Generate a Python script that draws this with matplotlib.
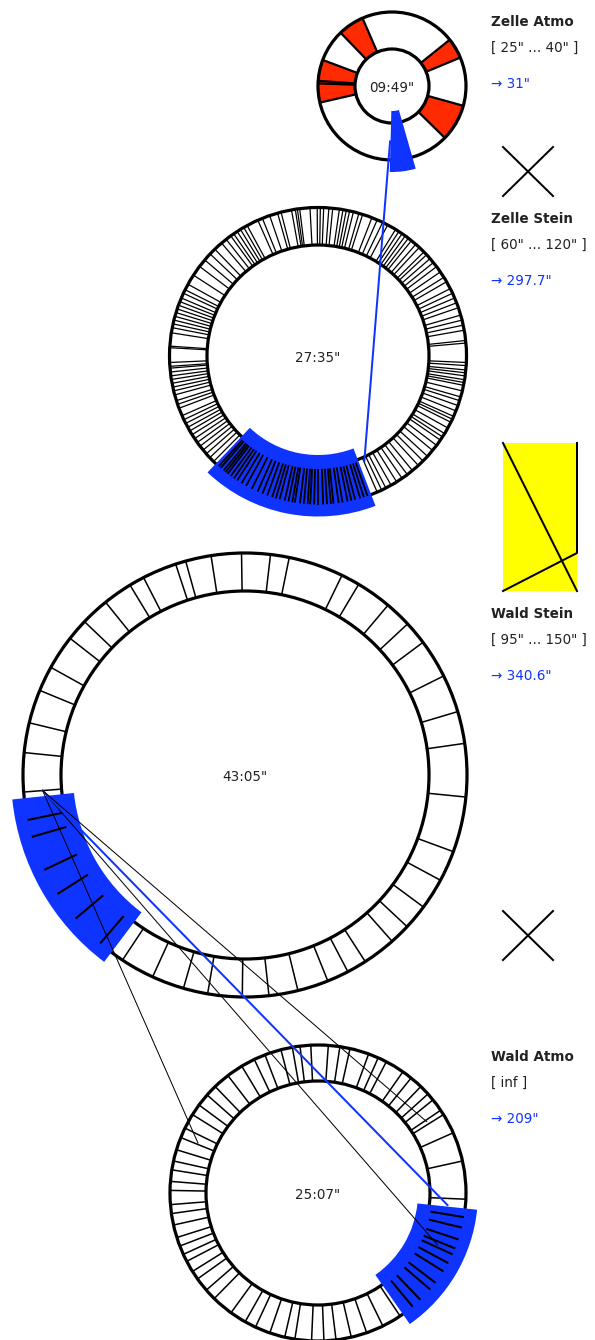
import numpy as np
import matplotlib
matplotlib.use("Agg")
import matplotlib.pyplot as plt
from matplotlib.patches import Wedge, Circle, Polygon

# ---------------- data ----------------
ring_names = ["Zelle Atmo", "Zelle Stein", "Wald Stein", "Wald Atmo"]
ring_times = ['09:49"', '27:35"', '43:05"', '25:07"']
ring_ranges = ['[ 25" ... 40" ]', '[ 60" ... 120" ]', '[ 95" ... 150" ]', '[ inf ]']
ring_results = ['\u2192 31"', '\u2192 297.7"', '\u2192 340.6"', '\u2192 209"']

# divider angles (degrees, clockwise from top)
zelle_atmo_dividers = [51.3, 67.4, 105.5, 134.5, 257, 272, 274, 290.6, 316, 336.5]
zelle_atmo_red = [(51.3, 67.4), (105.5, 134.5), (257, 272), (272, 274),
                  (274, 290.6), (316, 336.5)]

zelle_stein_dividers = [
    273.2, 273.8, 279, 281, 282.5, 284, 285.5, 287, 288.5, 290, 291.5, 293,
    295, 296.5, 298.9, 303, 307.1, 310.3, 313.4, 316, 319.5, 321.8, 324,
    325.4, 327, 328.5, 330, 331.5, 336.1, 338, 341, 344.2, 345.6, 349.7,
    351.2, 352, 352.9, 356.9, 359.7, 0.9, 2.2, 4.2, 5.7, 8.3, 9.7, 11, 12.3,
    13.8, 16, 17.5, 21.3, 23.5, 25.8, 28, 31.5, 33, 34.5, 36, 37.5, 39, 41.2,
    43, 45.5, 47, 49, 51, 53, 55.5, 58, 60, 63, 65, 67, 69, 71, 74, 76, 78,
    80, 84, 85,
    92.5, 93.7, 95.4, 96.5, 97.7, 99.2, 100.3, 101.4, 103.6, 106,
    107.5, 109.5, 111.7, 114, 115.2, 116.5, 119, 121.5, 123, 124.5, 127,
    129.5, 132.5, 135, 137.5, 140.5, 143, 145.5, 148, 150.5, 152.8, 154.6,
    156.5,
    160.5, 162, 163.5, 165.5, 167, 168.5, 170.5, 172, 174, 175, 176.5, 178,
    180, 181.5, 183, 184, 185.5, 187, 189, 190, 191.5, 193, 195, 196.5, 198,
    200, 202, 204, 206.5, 209, 211, 213, 214.5, 216, 217.5, 218.5, 219.5,
    221, 222,
    224.7, 226.8, 228.8, 230.7, 232.6, 234.4, 236.2, 238, 239.7, 241.3, 243,
    244.6, 246.3, 249.4, 251, 252.5, 254.8, 256.4, 257.9, 259.4, 260.9,
    262.3, 263.8, 265.3, 266, 267.5]

wald_stein_dividers = [
    359.1, 6.6, 11.5, 25.9, 30.8, 40.1, 47.1, 53.3, 63.5, 73.4, 81.8, 95.7,
    110.2, 118.3, 126.5, 133.1, 138.5, 147.2, 152.4, 158.1, 166.2, 173.8,
    180.7, 189.7, 196.1, 204.6, 213.5, 220.7, 229.7, 237.6, 244.7, 253.8,
    258.3, 265.6, 275.8, 283.6, 292.4, 299, 308, 313.7, 321.1, 328.8, 332.8,
    341.8, 344.5, 351.2]

wald_atmo_dividers = [
    353, 357.2, 4, 8.5, 12.5, 20, 24, 27.5, 35, 39, 44, 48, 51, 56, 58, 66,
    77.5, 92.4, 99.4, 103.5, 108.3, 112, 114.5, 118.3, 122, 127.4, 130.7,
    136.2, 140.2, 146.3, 154, 160.8, 167, 173, 177.7, 182.5, 189, 193, 199,
    205, 209.5, 216, 224.5, 229, 234.5, 238, 242.5, 245.5, 249, 252.5, 257.5,
    262, 265.5, 271, 274.5, 279, 282.5, 287, 292, 296, 302, 306.5, 311.5,
    316, 322.5, 329, 334.5, 339, 345.5, 350]

ring_dividers = [zelle_atmo_dividers, zelle_stein_dividers,
                 wald_stein_dividers, wald_atmo_dividers]
ring_red = [zelle_atmo_red, [], [], []]

# highlighted (blue) segment per ring: start / end angle
highlight_start = [164, 159, 217, 96]
highlight_end = [181.5, 223.5, 264, 145]

# links: (ring from, angle from, ring to, angle to, blue?)
link_from_ring = [0, 2, 2, 2, 2]
link_from_angle = [182, 265.6, 265.6, 265.6, 265.6]
link_to_ring = [1, 3, 3, 3, 3]
link_to_angle = [156.2, 292.6, 113.4, 95.3, 56.7]
link_is_blue = [True, False, False, True, False]

# ---------------- layout / style ----------------
centers = [(392, 86), (318, 356), (245, 775), (318, 1193)]
r_outer = [74, 148.5, 222, 148]
r_inner = [37, 111, 184, 112]
link_end_r = [114.8, 130, 130, 130, 130]
div_lw = [1.6, 0.9, 1.1, 1.1]
label_y = [22, 219, 614, 1057]
BLUE = "#1034ff"
RED = "#ff2a00"
TXT = "#222222"
PX = 0.72  # points per pixel at 100 dpi
FS = 13.5 * PX

fig = plt.figure(figsize=(5.95, 13.4), dpi=100)
ax = fig.add_axes([0, 0, 1, 1])
ax.set_xlim(0, 595)
ax.set_ylim(1340, 0)
ax.set_aspect("equal")
ax.axis("off")


def pt(c, r, th):
    t = np.radians(th)
    return c[0] + r * np.sin(t), c[1] - r * np.cos(t)


for i in range(4):
    c, ro, ri = centers[i], r_outer[i], r_inner[i]
    ax.add_patch(Wedge(c, ro, 0, 360, width=ro - ri, facecolor="white",
                       edgecolor="none", zorder=1))
    for a1, a2 in ring_red[i]:
        ax.add_patch(Wedge(c, ro, a1 - 90, a2 - 90, width=ro - ri,
                           facecolor=RED, edgecolor="none", zorder=2))
    for a in ring_dividers[i]:
        x0, y0 = pt(c, ri, a)
        x1, y1 = pt(c, ro, a)
        ax.plot([x0, x1], [y0, y1], color="black", lw=div_lw[i], zorder=3,
                solid_capstyle="butt")
    ax.add_patch(Circle(c, ro, fill=False, edgecolor="black", lw=3.2 * PX, zorder=4))
    ax.add_patch(Circle(c, ri, fill=False, edgecolor="black", lw=3.2 * PX, zorder=4))
    # highlight
    h1, h2 = highlight_start[i], highlight_end[i]
    ax.add_patch(Wedge(c, ro + 12, h1 - 90, h2 - 90, width=(ro - ri) + 24,
                       facecolor=BLUE, edgecolor="none", zorder=5))
    for a in ring_dividers[i]:
        if h1 < a < h2:
            x0, y0 = pt(c, ri + 2, a)
            x1, y1 = pt(c, ro, a)
            ax.plot([x0, x1], [y0, y1], color="black", lw=div_lw[i] + 0.4,
                    zorder=6, solid_capstyle="butt")
    ax.text(c[0], c[1] + 2, ring_times[i], ha="center", va="center",
            fontsize=FS, color=TXT, zorder=8)
    # labels
    ax.text(491, label_y[i], ring_names[i], ha="left", va="center",
            fontsize=FS, fontweight="bold", color=TXT)
    ax.text(491, label_y[i] + 26, ring_ranges[i], ha="left", va="center",
            fontsize=FS, color=TXT)
    ax.text(491, label_y[i] + 62, ring_results[i], ha="left", va="center",
            fontsize=FS, color=BLUE)

# links
for k in range(len(link_from_ring)):
    fr, tr = link_from_ring[k], link_to_ring[k]
    rf = (r_outer[fr] + r_inner[fr]) / 2
    x0, y0 = pt(centers[fr], rf, link_from_angle[k])
    x1, y1 = pt(centers[tr], link_end_r[k], link_to_angle[k])
    if link_is_blue[k]:
        ax.plot([x0, x1], [y0, y1], color=BLUE, lw=2 * PX, zorder=7)
    else:
        ax.plot([x0, x1], [y0, y1], color="black", lw=1 * PX, zorder=7)

# cross marks
for (xa, ya) in [(503, 147), (503, 911)]:
    ax.plot([xa, xa + 50], [ya, ya + 49], color="black", lw=2 * PX)
    ax.plot([xa, xa + 50], [ya + 49, ya], color="black", lw=2 * PX)

# yellow glyph
ax.add_patch(Polygon([(503, 443), (577, 443), (577, 591), (503, 591)],
                     closed=True, facecolor="#ffff00", edgecolor="none", zorder=1))
ax.plot([503, 577], [443, 591], color="black", lw=2 * PX, zorder=2)
ax.plot([577, 577, 503], [443, 553, 591], color="black", lw=2 * PX, zorder=2)

fig.savefig("out.png", dpi=100)
